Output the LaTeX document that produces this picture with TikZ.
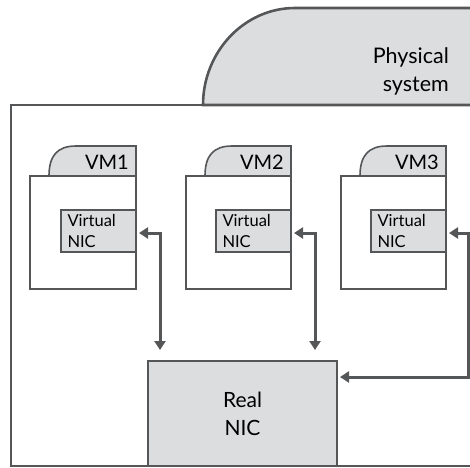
\documentclass[tikz,border=0pt]{standalone}
\usepackage{fontspec}
\setmainfont{Lato}
\usetikzlibrary{arrows.meta,calc}
\definecolor{ln}{HTML}{555658}
\definecolor{fl}{HTML}{DCDDDF}
\begin{document}
\begin{tikzpicture}[x=1pt,y=-1pt,
  frame/.style={draw=ln,line width=2.6pt},
  vmbody/.style={draw=ln,line width=1.6pt,fill=white,minimum height=113pt,inner sep=0pt,outer sep=0pt,anchor=north west},
  vmtab/.style={draw=ln,line width=1.6pt,fill=fl},
  nicbox/.style={draw=ln,line width=1.6pt,fill=fl,minimum width=75pt,minimum height=42pt,text width=62pt,inner xsep=6.5pt,inner ysep=0pt,outer sep=0pt,align=left,anchor=east,font=\fontsize{16.5}{21}\selectfont},
  realbox/.style={draw=ln,line width=1.6pt,fill=fl,minimum width=189pt,minimum height=105pt,inner sep=0pt,outer sep=0pt,align=center,font=\fontsize{21}{28}\selectfont},
  vmlabel/.style={anchor=base east,inner sep=0pt,font=\fontsize{20}{22}\selectfont},
  arr/.style={draw=ln,line width=3pt,arrows={Triangle[length=9pt,width=11pt]-Triangle[length=9pt,width=11pt]}}]
\useasboundingbox (0,0) rectangle (470,467);
\clip (0,0) rectangle (470,467);
% physical system tab
\path[frame,fill=fl] (203,105) .. controls (203,52) and (244,8) .. (295,8) -- (480,8) -- (480,105) -- cycle;
\node[anchor=north east,inner sep=0pt,align=right,font=\fontsize{21.5}{28}\selectfont] (phys) at (449,47) {Physical\\system};
% outer frame
\draw[frame] (480,105) -- (11,105) -- (11,466) -- (480,466);
% VMs
\foreach \i/\L/\R in {1/30/136,2/186/291,3/341/446}{
  \path[vmtab] (\L+19,176) .. controls (\L+19,156) and (\L+27,146) .. (\L+46,146) -- (\R,146) -- (\R,176) -- cycle;
  \node[vmbody,minimum width=\R-\L] (vm\i) at (\L,176) {};
  \node[vmlabel] (vml\i) at (\R-7,169) {VM\i};
  \node[nicbox] (nic\i) at (\R,231) {Virtual\\NIC};
}
% real NIC
\node[realbox] (real) at (242.5,413.5) {Real\\NIC};
% connectors
\draw[arr] ($(nic1.east)+(3,2)$) -| ($(real.north west)+(12,-11)$);
\draw[arr] ($(nic2.east)+(3,2)$) -| ($(real.north east)+(-22,-11)$);
\coordinate (c3) at (468.5,377);
\draw[arr] ($(nic3.east)+(3,2)$) -| (c3) -- ($(real.north east)+(3,16)$);
\end{tikzpicture}
\end{document}
